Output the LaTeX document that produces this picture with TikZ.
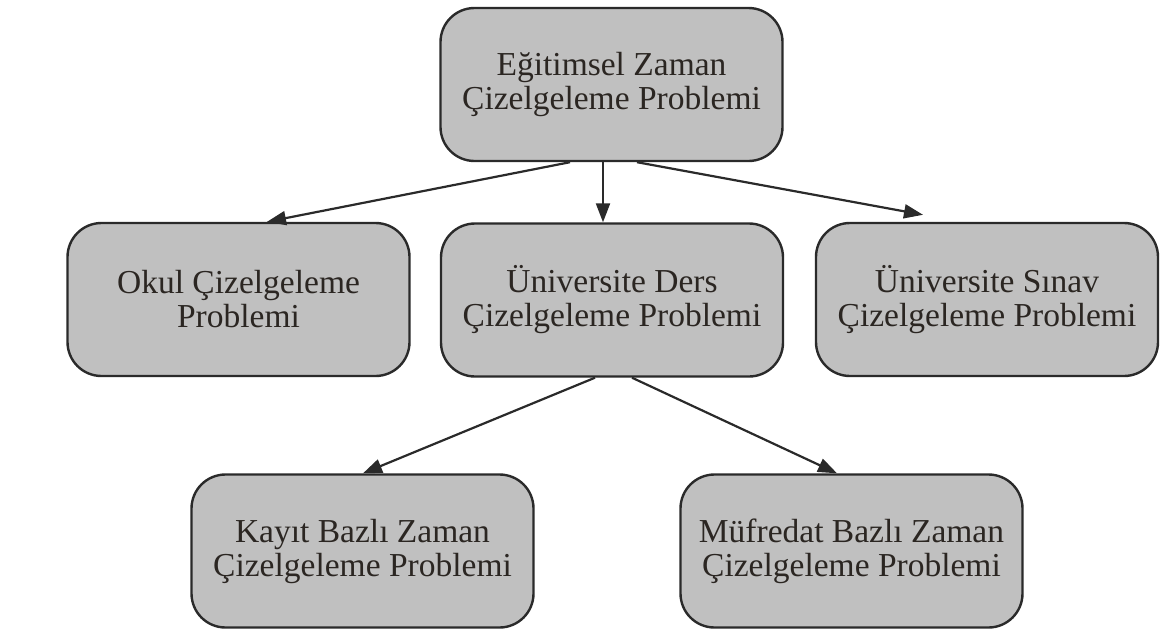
\documentclass[tikz,border=0pt]{standalone}
\usepackage{fontspec}
\setmainfont{Liberation Serif}
\usetikzlibrary{arrows.meta}
\definecolor{boxfill}{HTML}{C0C0C0}
\definecolor{boxline}{HTML}{2A2A2A}
\definecolor{txt}{HTML}{2B2622}
\begin{document}
\begin{tikzpicture}[x=1pt,y=-1pt,
  probbox/.style={draw=boxline, line width=2.4pt, fill=boxfill, rounded corners=34pt,
    minimum width=342pt, minimum height=153pt, align=center, inner sep=0pt,
    text=txt, font=\fontsize{33.5}{34}\selectfont},
  link/.style={draw=boxline, line width=2.2pt, -{Triangle[length=19pt,width=14pt]}}]
  \useasboundingbox (0,0) rectangle (1160,632);

  % hierarchy of timetabling problems
  \node[probbox] (egitim) at (611.5,84.5) {Eğitimsel Zaman\\Çizelgeleme Problemi};
  \node[probbox] (okul)   at (238.5,299.5) {Okul Çizelgeleme\\Problemi};
  \node[probbox] (ders)   at (612,300)     {Üniversite Ders\\Çizelgeleme Problemi};
  \node[probbox] (sinav)  at (987,299.5)   {Üniversite Sınav\\Çizelgeleme Problemi};
  \node[probbox] (kayit)  at (362.5,551)   {Kayıt Bazlı Zaman\\Çizelgeleme Problemi};
  \node[probbox] (mufr)   at (851.5,551)   {Müfredat Bazlı Zaman\\Çizelgeleme Problemi};

  % connectors
  \draw[link] ([xshift=-41.5pt]egitim.south) -- ([xshift=28.5pt]okul.north);
  \draw[link] ([xshift=-8.5pt]egitim.south) -- ([xshift=-9pt]ders.north);
  \draw[link] ([xshift=25.5pt]egitim.south) -- ([xshift=-64pt,yshift=7pt]sinav.north);
  \draw[link] ([xshift=-17pt]ders.south) -- ([xshift=0.5pt]kayit.north);
  \draw[link] ([xshift=20pt]ders.south) -- ([xshift=-14.5pt]mufr.north);
\end{tikzpicture}
\end{document}
